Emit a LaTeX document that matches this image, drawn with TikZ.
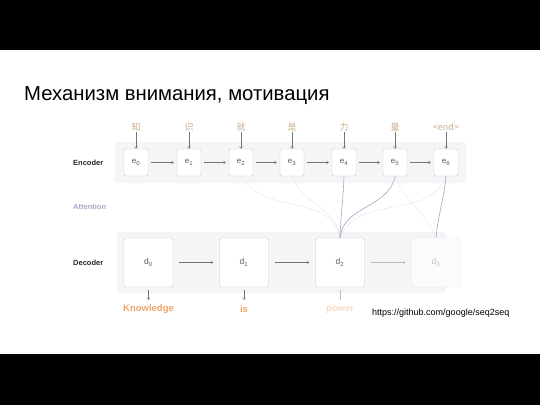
\documentclass[tikz,border=0pt]{standalone}
\usepackage{fontspec}
\setmainfont{Liberation Sans}
\newfontfamily\cjk{Noto Sans CJK SC}
\usetikzlibrary{positioning,arrows.meta}
\definecolor{panelgray}{HTML}{F5F5F7}
\definecolor{boxline}{HTML}{C8C8CC}
\definecolor{chartan}{HTML}{C9AE8C}
\definecolor{wordorange}{HTML}{EFA468}
\definecolor{attnblue}{HTML}{A4A8C6}
\definecolor{attnline}{HTML}{A6A6C6}
\tikzset{
    encbox/.style={draw=boxline, fill=white, rounded corners=2pt, minimum width=24pt, minimum height=27pt, inner sep=0pt, font=\fontsize{8}{9}\selectfont, text=black!65},
    decbox/.style={encbox, minimum width=49pt, minimum height=49pt, font=\fontsize{8.5}{10}\selectfont},
    flow/.style={draw=black!55, line width=0.4pt, -{Straight Barb[length=2pt,width=3pt]}},
    rowlabel/.style={anchor=west, inner sep=0pt, font=\bfseries\fontsize{7.5}{9}\selectfont},
    attn/.style={draw=attnline, line width=0.6pt},
    attnfaint/.style={draw=attnline!30, line width=0.4pt}
}
\begin{document}
\begin{tikzpicture}[x=1pt,y=-1pt]
    \useasboundingbox (0,0) rectangle (540,405);
    \fill[black] (0,0) rectangle (540,50);
    \fill[black] (0,354) rectangle (540,405);
    \node[anchor=west, inner sep=0pt] (title) at (24,96) {\fontsize{20.3}{24}\selectfont Механизм внимания, мотивация};
    % panels
    \fill[panelgray, rounded corners=3pt] (115,142) rectangle (466,183);
    \fill[panelgray, rounded corners=3pt] (117,232) rectangle (446,293);
    \node[rowlabel, text=black!85] (enclabel) at (73,163) {Encoder};
    \node[rowlabel, text=attnblue] (attlabel) at (73,207) {Attention};
    \node[rowlabel, text=black!85] (declabel) at (73,263) {Decoder};
    % encoder
    \foreach \i/\x/\ch in {0/136/知, 1/189/识, 2/241/就, 3/292/是, 4/344/力, 5/395/量, 6/446/{<end>}} {
        \node[encbox] (e\i) at (\x,162.5) {e\textsubscript{\i}};
        \node[text=chartan, inner sep=1pt, font=\cjk\fontsize{9}{10}\selectfont] (c\i) at (\x,127) {\ch};
        \draw[flow] (c\i) -- (e\i);
    }
    \foreach \i/\j in {0/1, 1/2, 2/3, 3/4, 4/5, 5/6}
        \draw[flow, shorten >=3pt, shorten <=3pt] (e\i) -- (e\j);
    % attention
    \draw[attnfaint] (e2.south) to[out=-60, in=100] (340,238);
    \draw[attnfaint] (e3.south) to[out=-70, in=95] (340,238);
    \draw[attnfaint] (e6.south) to[out=-110, in=70] (340,238);
    \draw[attnfaint] (e5.south) to[out=-70, in=110] (436,238);
    % decoder
    \foreach \i/\x in {0/148.5, 1/244, 2/340} {
        \node[decbox] (d\i) at (\x,262.5) {d\textsubscript{\i}};
    }
    \node[decbox, draw=boxline!45, text=black!25, fill=white!60!panelgray] (d3) at (436,262.5) {d\textsubscript{3}};
    \draw[attn] (e4.south) to[out=-92, in=88] (d2.north);
    \draw[attn] (e5.south) to[out=-100, in=85] (d2.north);
    \draw[attn] (e6.south) to[out=-95, in=85] (d3.north);
    \draw[flow, shorten >=6pt, shorten <=6pt] (d0) -- (d1);
    \draw[flow, shorten >=6pt, shorten <=6pt] (d1) -- (d2);
    \draw[flow, draw=black!25, shorten >=6pt, shorten <=6pt] (d2) -- (d3);
    % outputs
    \foreach \i/\w/\c in {0/Knowledge/wordorange, 1/is/wordorange, 2/power/wordorange!40} {
        \node[text=\c, inner sep=1pt, font=\bfseries\fontsize{9.5}{11}\selectfont] (w\i) at (d\i.south |- 0,309.5) {\w};
    }
    \draw[flow] (d0.south) ++(0,3) coordinate (o0) -- (o0 |- 0,300);
    \draw[flow] (d1.south) ++(0,3) coordinate (o1) -- (o1 |- 0,300);
    \draw[black!25] (d2.south) ++(0,3) coordinate (o2) -- (o2 |- 0,300);
    \node[anchor=west, inner sep=0pt, font=\fontsize{9}{11}\selectfont] (url) at (372,313) {https://github.com/google/seq2seq};
\end{tikzpicture}
\end{document}
